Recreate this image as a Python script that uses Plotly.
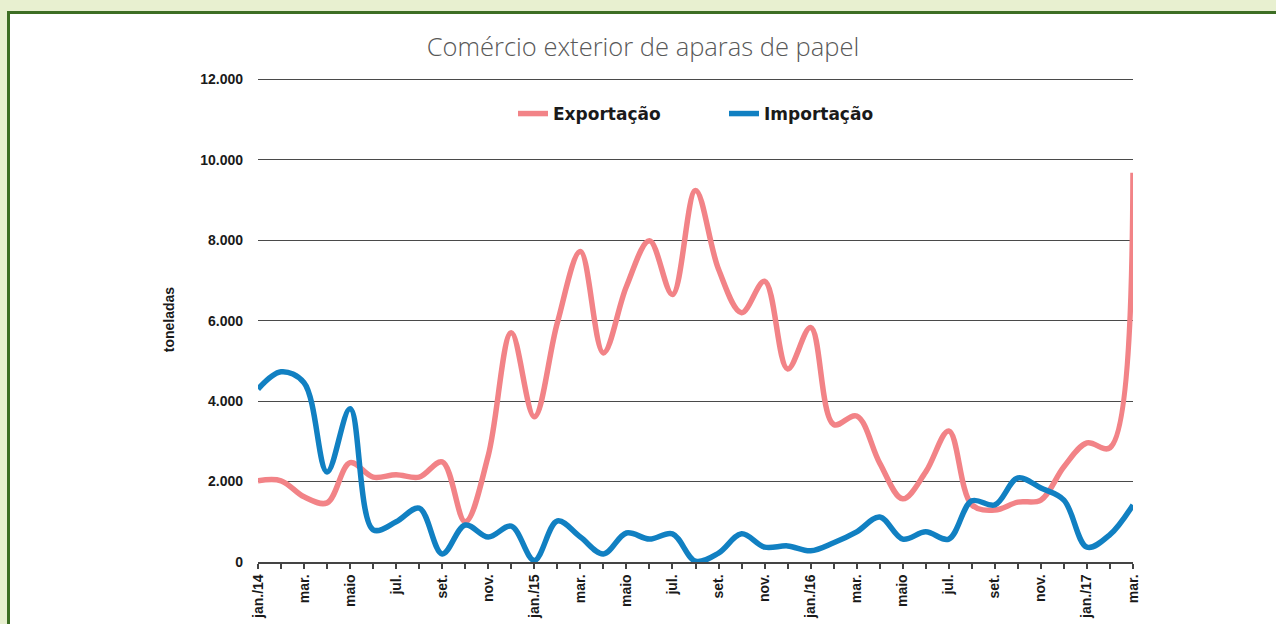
import plotly.graph_objects as go

meses = list(range(39))
rotulos_vals = list(range(0, 39, 2))
rotulos = ["jan./14", "mar.", "maio", "jul.", "set.", "nov.",
           "jan./15", "mar.", "maio", "jul.", "set.", "nov.",
           "jan./16", "mar.", "maio", "jul.", "set.", "nov.",
           "jan./17", "mar."]

exportacao = [2020, 2020, 1620, 1470, 2470, 2110, 2170, 2110, 2490, 1000,
              2650, 5700, 3610, 5950, 7720, 5200, 6850, 7990, 6650, 9240,
              7280, 6200, 6980, 4800, 5830, 3420, 3630, 2460, 1570, 2240,
              3260, 1420, 1290, 1490, 1540, 2370, 2960, 2840, 9680]

importacao = [4300, 4730, 4460, 2240, 3810, 800, 1000, 1340, 200, 920,
              620, 890, 40, 1020, 620, 200, 720, 570, 700, 20,
              220, 700, 370, 400, 280, 480, 750, 1120, 570, 750,
              570, 1520, 1420, 2090, 1840, 1540, 370, 680, 1420]

y_ticks = [0, 2000, 4000, 6000, 8000, 10000, 12000]
y_text = ["0", "2.000", "4.000", "6.000", "8.000", "10.000", "12.000"]

W, H = 1276, 624
L, R, T, B = 258, 143, 77, 62
pw, ph = W - L - R, H - T - B

def px_x(x):
    return (x - L) / pw

def px_y(y):
    return (H - B - y) / ph

fig = go.Figure()
fig.add_trace(go.Scatter(x=meses, y=exportacao, name="Exportação", mode="lines",
                         line=dict(color="#f28387", width=5.5, shape="spline", smoothing=1.0)))
fig.add_trace(go.Scatter(x=meses, y=importacao, name="Importação", mode="lines",
                         line=dict(color="#1180c2", width=5.5, shape="spline", smoothing=1.0)))

fig.add_shape(type="rect", xref="paper", yref="paper", layer="below",
              x0=px_x(8.5), x1=px_x(1300), y0=px_y(650), y1=px_y(12.5),
              fillcolor="white", line=dict(color="#3d6e24", width=3))

fig.update_layout(
    width=W, height=H,
    margin=dict(l=L, r=R, t=T, b=B, autoexpand=False),
    paper_bgcolor="#e8f0d0",
    plot_bgcolor="rgba(0,0,0,0)",
    title=dict(text="Comércio exterior de aparas de papel",
               font=dict(family="Open Sans", size=25.5, color="#595959", weight=300),
               x=643 / W, xref="container", xanchor="center",
               y=1 - 47 / H, yref="container", yanchor="middle"),
    showlegend=True,
    legend=dict(orientation="h", x=px_x(513), y=px_y(114), xanchor="left", yanchor="middle",
                xref="paper", yref="paper",
                font=dict(family="DejaVu Sans", size=17, color="#1a1a1a", weight="bold"),
                bgcolor="rgba(0,0,0,0)", entrywidth=166, entrywidthmode="pixels",
                traceorder="normal"),
    font=dict(family="Liberation Sans", color="#1a1a1a"),
)

fig.update_xaxes(range=[0, 38], tickmode="array", tickvals=rotulos_vals, ticktext=rotulos,
                 tickangle=-90, tickfont=dict(family="Liberation Sans", size=14, color="#1a1a1a", weight="bold"),
                 ticks="outside", ticklen=5, tickcolor="#444", tickwidth=1.5,
                 minor=dict(dtick=1, tick0=0, ticks="outside", ticklen=5, tickcolor="#444", tickwidth=1.5),
                 showline=True, linecolor="#444", linewidth=1.5,
                 showgrid=False, zeroline=False, fixedrange=True)

fig.update_yaxes(range=[0, 12060], tickmode="array", tickvals=y_ticks, ticktext=y_text,
                 tickfont=dict(family="Liberation Sans", size=14, color="#1a1a1a", weight="bold"),
                 ticks="", ticklabelstandoff=14,
                 showgrid=True, gridcolor="#4a4a4a", gridwidth=1.2,
                 zeroline=False, showline=False,
                 title=dict(text="toneladas", standoff=22,
                            font=dict(family="Liberation Sans", size=14, color="#1a1a1a", weight="bold")),
                 fixedrange=True)

fig.write_html("out.html", config={"displayModeBar": False},
               post_script="document.body.style.margin='0';document.body.style.overflow='hidden';document.body.style.background='#e8f0d0';")
